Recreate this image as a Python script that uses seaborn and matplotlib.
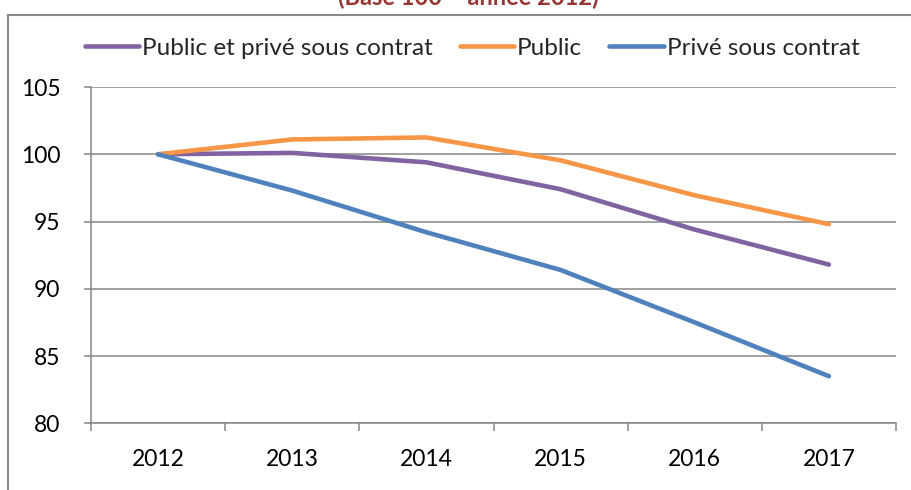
import pandas as pd
import numpy as np
import matplotlib.pyplot as plt
import seaborn as sns

# données (base 100 = 2012)
annees = [2012, 2013, 2014, 2015, 2016, 2017]
public_et_prive = [100.0, 100.1, 99.4, 97.4, 94.4, 91.8]
public = [100.0, 101.1, 101.25, 99.55, 96.95, 94.8]
prive = [100.0, 97.3, 94.2, 91.4, 87.5, 83.5]

series = ['Public et privé sous contrat', 'Public', 'Privé sous contrat']
couleurs = ['#8064A2', '#F79646', '#4F81BD']

# format long pour seaborn
df = pd.DataFrame({
    'Année': annees * 3,
    'Indice': public_et_prive + public + prive,
    'Secteur': [series[0]] * 6 + [series[1]] * 6 + [series[2]] * 6
})

sns.set_theme(style='white')
plt.rcParams['font.family'] = ['Lato', 'DejaVu Sans']

gris = '#868686'
epaisseur = 3.3

fig = plt.figure(figsize=(9.11, 4.90), dpi=100)
ax = fig.add_axes([91/911, 66.7/490, (896-91)/911, (423.3-87)/490])

sns.lineplot(
    data=df,
    x='Année',
    y='Indice',
    hue='Secteur',
    hue_order=series,
    palette=couleurs,
    linewidth=epaisseur,
    errorbar=None,
    solid_capstyle='round',
    ax=ax
)

# axes
ax.set_xlim(2011.5, 2017.5)
ax.set_ylim(80, 105)
ax.set_yticks(range(80, 106, 5))
ax.set_xticks(annees)
ax.set_xticks(np.arange(2011.5, 2018, 1), minor=True)
ax.set_xlabel('')
ax.set_ylabel('')

ax.tick_params(axis='x', which='major', bottom=True, length=0, pad=18.5,
               labelsize=16.5, labelcolor='black')
ax.tick_params(axis='x', which='minor', bottom=True, length=6, width=1.1,
               color=gris, direction='out')
ax.tick_params(axis='y', left=True, length=5, width=1.1, color=gris,
               direction='out', pad=17, labelsize=16.5, labelcolor='black')

ax.grid(axis='y', color=gris, linewidth=1.1)
ax.set_axisbelow(True)

for cote in ['top', 'right']:
    ax.spines[cote].set_visible(False)
for cote in ['left', 'bottom']:
    ax.spines[cote].set_color(gris)
    ax.spines[cote].set_linewidth(1.1)

# légende en haut
handles, labels = ax.get_legend_handles_labels()
ax.get_legend().remove()
for h in handles:
    h.set_linewidth(epaisseur)
    h.set_solid_capstyle('round')

fig.legend(
    handles, labels,
    loc='center',
    bbox_to_anchor=(472/911, 1 - 48.3/490),
    ncol=3,
    frameon=False,
    fontsize=17.5,
    handlelength=2.25,
    handletextpad=0.12,
    columnspacing=1.1,
    borderaxespad=0
)

# titre coupé en haut (comme sur l'original)
fig.text(468/911, 1 - 5/490, '(Base 100 – année 2012)',
         ha='center', va='baseline', fontsize=17, fontweight='bold',
         color='#953735')

# cadre du graphique
fig.add_artist(plt.Rectangle(
    (7.5/911, -0.5), 2, (490-15)/490 + 0.5,
    transform=fig.transFigure, fill=False,
    edgecolor='#8a8a8a', linewidth=1.5
))

fig.savefig('out.png', dpi=100)
